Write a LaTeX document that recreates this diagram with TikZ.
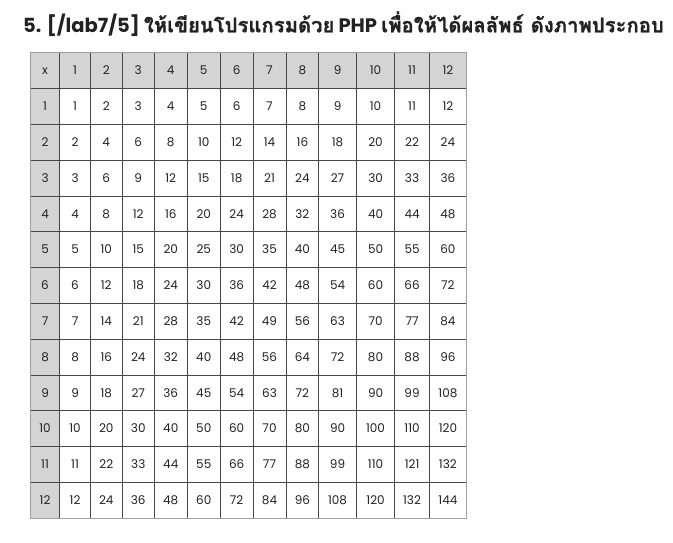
\documentclass[tikz,border=0pt]{standalone}
\usepackage{fontspec}
\setmainfont{Poppins}
\newfontfamily\thaifont[Script=Thai,Scale=1.04,FakeBold=1]{Loma}
\usetikzlibrary{positioning}
\definecolor{headgray}{RGB}{212,212,212}
\definecolor{gridline}{RGB}{70,70,70}
\definecolor{bordergray}{RGB}{160,160,160}
\definecolor{inkdark}{RGB}{34,34,34}
\tikzset{
x=1pt, y=-1pt, % one unit is one pixel of the page, y runs downwards
cell/.style={draw=gridline, line width=0.8pt, minimum height=35.8pt, inner sep=0pt, text height=8.6pt, text depth=0pt, text=inkdark, font=\fontsize{12}{13}\selectfont}, % sets the properties for each body cell
headcell/.style={cell, fill=headgray}, % header row and column
title/.style={anchor=base west, inner sep=0pt, text=inkdark, font=\fontsize{19.5}{22}\selectfont\bfseries}, % the heading above the table
}
\def\colx{{30,59.3,90,121.7,154,186.7,220,252.5,285.7,318.3,356,394.3,429,466}}

\begin{document}
\begin{tikzpicture}
  \useasboundingbox (0,0) rectangle (673,542);
  \node[title] (head) at (23,32.3) {5. [/lab7/5] {\thaifont ให้เขียนโปรแกรมด้วย} PHP {\thaifont เพื่อให้ได้ผลลัพธ์ ดังภาพประกอบ}};

  \foreach \r in {0,...,12}{
    \foreach \c in {0,...,12}{
      \pgfmathsetmacro{\xl}{\colx[\c]}
      \pgfmathsetmacro{\xr}{\colx[\c+1]}
      \pgfmathtruncatemacro{\val}{\r*\c}
      \pgfmathtruncatemacro{\hd}{(\r==0)||(\c==0)}
      \ifnum\r=0 \edef\txt{\c}\else\ifnum\c=0 \edef\txt{\r}\else\edef\txt{\val}\fi\fi
      \ifnum\r=0 \ifnum\c=0 \def\txt{x}\fi\fi
      \ifnum\hd=1 \def\st{headcell}\else\def\st{cell}\fi
      \node[\st, minimum width={\xr-\xl}, anchor=north west] (c-\r-\c) at (\xl,{52.3+35.8*\r}) {\txt};
    }
  }
  \draw[bordergray, line width=1pt] (c-0-0.north west) rectangle (c-12-12.south east);
\end{tikzpicture}
\end{document}
